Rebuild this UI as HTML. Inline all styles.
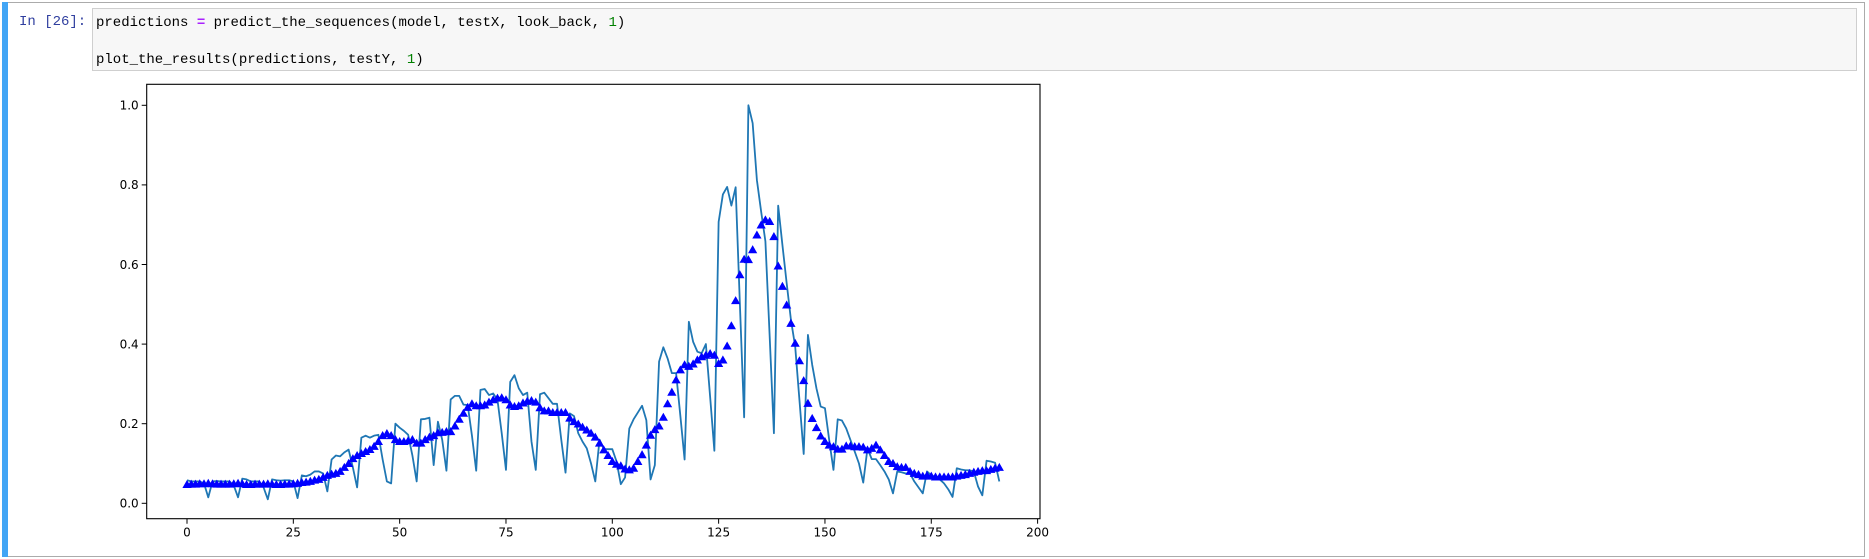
<!DOCTYPE html>
<html><head><meta charset="utf-8"><style>
body{margin:0;width:1869px;height:559px;background:#fff;overflow:hidden;position:relative;font-family:"Liberation Sans",sans-serif}
#cell{position:absolute;left:2px;top:2px;width:1863px;height:555px;border:1px solid #ababab;box-sizing:border-box}
#bar{position:absolute;left:2px;top:2px;width:6px;height:555px;background:#42a5f5}
#prompt{position:absolute;left:19px;top:14px;font:14px "Liberation Mono",monospace;color:#303f9f}
#input{position:absolute;left:92px;top:8px;width:1765px;height:63px;background:#f7f7f7;border:1px solid #cfcfcf;box-sizing:border-box}
.code{position:absolute;left:3px;font:14px "Liberation Mono",monospace;color:#000;white-space:pre}
.o{color:#aa22ff;font-weight:bold}.n{color:#008000}
svg{position:absolute;left:0;top:0}
</style></head><body>
<div id="cell"></div>
<div id="bar"></div>
<div id="prompt">In [26]:</div>
<div id="input">
<div class="code" style="top:6px">predictions <span class="o">=</span> predict_the_sequences(model, testX, look_back, <span class="n">1</span>)</div>
<div class="code" style="top:43px">plot_the_results(predictions, testY, <span class="n">1</span>)</div>
</div>
<svg id="chart" width="1869" height="559"></svg>
<script>
const actual=[0.058,0.055,0.055,0.055,0.05,0.015,0.055,0.056,0.055,0.055,
0.055,0.045,0.015,0.062,0.06,0.055,0.055,0.055,0.04,0.01,
0.06,0.058,0.057,0.058,0.058,0.055,0.013,0.07,0.068,0.072,
0.08,0.08,0.075,0.03,0.11,0.12,0.118,0.128,0.135,0.09,
0.04,0.165,0.17,0.165,0.17,0.172,0.11,0.055,0.05,0.2,
0.19,0.182,0.172,0.12,0.055,0.211,0.212,0.215,0.096,0.205,
0.16,0.082,0.261,0.27,0.27,0.248,0.247,0.17,0.082,0.285,
0.287,0.272,0.276,0.26,0.176,0.084,0.305,0.322,0.289,0.272,
0.278,0.155,0.084,0.274,0.278,0.264,0.25,0.25,0.16,0.077,
0.226,0.219,0.176,0.155,0.138,0.1,0.055,0.16,0.136,0.136,
0.136,0.105,0.048,0.065,0.188,0.211,0.228,0.245,0.209,0.06,
0.096,0.356,0.392,0.364,0.327,0.327,0.22,0.11,0.456,0.406,
0.381,0.377,0.4,0.268,0.132,0.707,0.776,0.795,0.748,0.794,
0.5,0.216,1.0,0.955,0.812,0.733,0.658,0.42,0.176,0.748,
0.649,0.553,0.461,0.394,0.26,0.124,0.423,0.348,0.289,0.243,
0.239,0.159,0.084,0.211,0.208,0.188,0.159,0.13,0.1,0.052,
0.138,0.111,0.111,0.096,0.08,0.06,0.025,0.08,0.078,0.075,
0.075,0.055,0.04,0.025,0.08,0.07,0.066,0.06,0.05,0.035,
0.016,0.088,0.085,0.083,0.083,0.08,0.042,0.02,0.107,0.105,
0.102,0.055];
const predicted=[0.047,0.048,0.048,0.049,0.049,0.05,0.049,0.048,0.048,0.048,
0.048,0.049,0.05,0.049,0.047,0.047,0.048,0.048,0.048,0.049,
0.048,0.047,0.047,0.048,0.048,0.049,0.05,
0.052,0.053,0.055,0.058,0.06,0.065,0.07,0.073,0.075,0.08,0.09,0.1,0.112,0.12,0.125,0.13,0.135,0.143,0.155,0.17,0.175,0.17,
0.16,0.155,0.155,0.157,0.16,0.151,0.151,0.16,0.166,0.17,0.177,0.178,0.18,0.18,0.194,0.211,0.226,0.241,0.25,0.245,0.245,0.247,0.254,0.26,0.264,0.265,0.26,0.247,0.243,0.245,0.252,0.256,0.258,0.254,0.24,0.232,0.232,0.228,0.228,0.228,0.228,0.214,0.205,0.199,0.191,0.184,0.176,0.166,0.151,0.134,0.12,
0.105,0.098,0.094,0.086,0.084,0.088,0.105,0.122,0.146,0.171,0.185,0.194,0.216,0.25,0.279,0.31,0.335,0.348,0.344,0.35,0.36,0.368,0.372,0.376,0.372,0.351,0.36,0.395,0.446,0.509,0.574,0.613,0.612,0.637,0.674,0.699,0.712,0.708,0.67,0.596,0.545,0.498,0.452,0.402,0.358,0.308,0.251,0.213,0.19,0.169,0.155,0.146,0.142,0.136,0.136,0.144,0.144,0.142,0.142,0.141,0.134,0.138,0.146,0.134,
0.12,0.105,0.1,0.092,0.09,0.09,0.08,0.075,0.072,0.068,0.07,0.068,0.066,0.066,0.066,0.066,0.066,0.068,0.07,0.072,0.075,0.078,0.08,0.082,0.082,0.085,0.088,0.09];
const xTicks=[0,25,50,75,100,125,150,175,200];
const yTicks=[0.0,0.2,0.4,0.6,0.8,1.0];
const yTickLabels=["0.0","0.2","0.4","0.6","0.8","1.0"];

const L=146.7,R=1040,T=84.3,B=518.7;
const sx=v=>187+4.253*v;
const sy=v=>503.3-398*v;
const svg=document.getElementById('chart');
const NS='http://www.w3.org/2000/svg';
function mk(tag,attrs){const e=document.createElementNS(NS,tag);for(const k in attrs)e.setAttribute(k,attrs[k]);svg.appendChild(e);return e;}

let d='';
actual.forEach((v,i)=>{d+=(i?'L':'M')+sx(i).toFixed(2)+' '+sy(v).toFixed(2);});
const ln=mk('path',{d:d,fill:'none',stroke:'#1f77b4','stroke-width':1.8,'stroke-linejoin':'round'});


predicted.forEach((v,i)=>{
  const x=sx(i),y=sy(v),s=4.6;
  const t=mk('polygon',{points:`${x},${y-s} ${x-s},${y+s*0.75} ${x+s},${y+s*0.75}`,fill:'#0000ff'});
  
  
});
const fr=mk('rect',{x:L,y:T,width:R-L,height:B-T,fill:'none',stroke:'#000','stroke-width':1.1});


xTicks.forEach(v=>{
  const x=sx(v);
  const tk=mk('line',{x1:x,x2:x,y1:B,y2:B+5,stroke:'#000','stroke-width':1});
  
  
  const tx=mk('text',{x:x,y:B+18,'text-anchor':'middle','font-size':12,'font-family':'DejaVu Sans, sans-serif',fill:'#000'});
  tx.textContent=String(v);
  
  
});
yTicks.forEach((v,i)=>{
  const y=sy(v);
  const tk=mk('line',{x1:L-5,x2:L,y1:y,y2:y,stroke:'#000','stroke-width':1});
  
  
  const tx=mk('text',{x:L-8,y:y+4.3,'text-anchor':'end','font-size':12,'font-family':'DejaVu Sans, sans-serif',fill:'#000'});
  tx.textContent=yTickLabels[i];
  
  
});
</script>
</body></html>
